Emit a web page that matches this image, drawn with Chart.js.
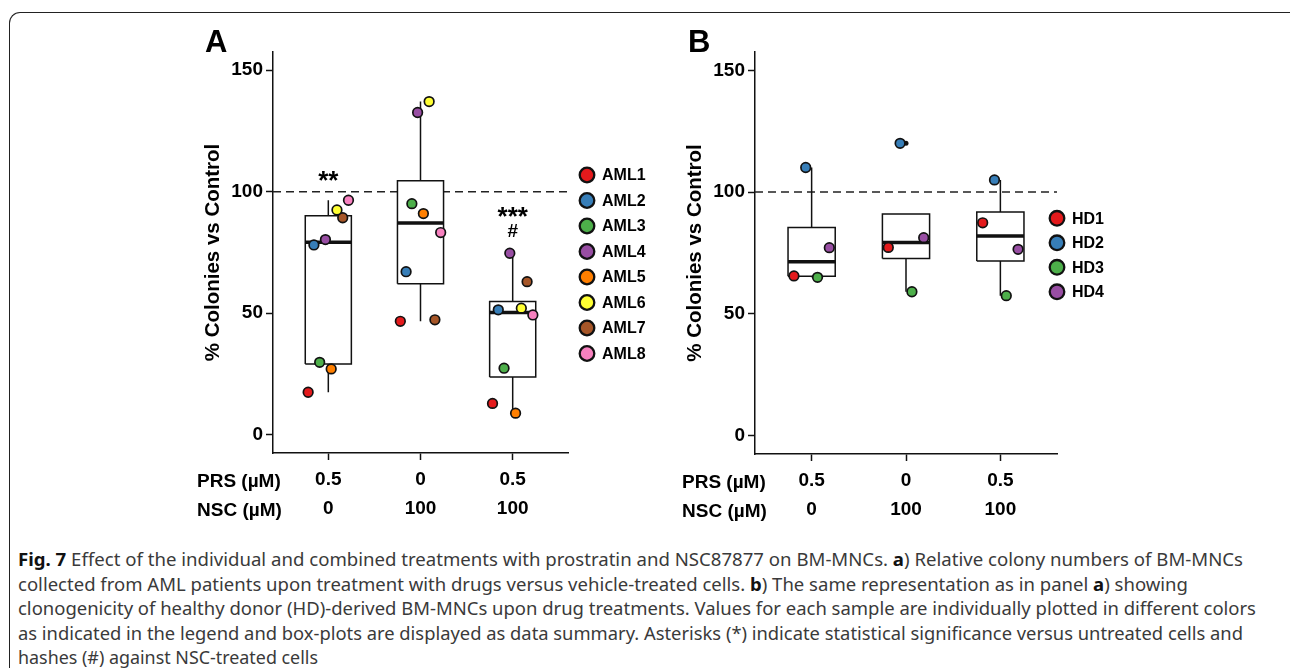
<!DOCTYPE html>
<html>
<head>
<meta charset="utf-8">
<script src="https://cdn.jsdelivr.net/npm/chart.js@4.4.0/dist/chart.umd.min.js"></script>
<style>
  html, body { margin: 0; padding: 0; background: #fff; }
  #page { position: relative; width: 1290px; height: 668px; overflow: hidden; background: #fff; }
  #frame { position: absolute; left: 9px; top: 12px; width: 1300px; height: 700px;
           border-top: 1.5px solid #222; border-left: 1.5px solid #222; border-top-left-radius: 11px; }
  #wrapA { position: absolute; left: 0; top: 0; width: 680px; height: 530px; }
  #wrapB { position: absolute; left: 680px; top: 0; width: 610px; height: 530px; }
  #caption { position: absolute; left: 18px; top: 547px; font-family: "Noto Sans", sans-serif;
             font-size: 18px; line-height: 24.5px; color: #3a3a3a; }
  .cl { white-space: nowrap; transform-origin: 0 0; display: inline-block; }
  .cl b { color: #111; }
</style>
</head>
<body>
<div id="page">
  <div id="frame"></div>
  <div id="wrapA"><canvas id="chartA"></canvas></div>
  <div id="wrapB"><canvas id="chartB"></canvas></div>
  <div id="caption">
    <div><span class="cl"><b>Fig. 7</b> Effect of the individual and combined treatments with prostratin and NSC87877 on BM-MNCs. <b>a</b>) Relative colony numbers of BM-MNCs</span></div>
    <div><span class="cl">collected from AML patients upon treatment with drugs versus vehicle-treated cells. <b>b</b>) The same representation as in panel <b>a</b>) showing</span></div>
    <div><span class="cl">clonogenicity of healthy donor (HD)-derived BM-MNCs upon drug treatments. Values for each sample are individually plotted in different colors</span></div>
    <div><span class="cl">as indicated in the legend and box-plots are displayed as data summary. Asterisks (*) indicate statistical significance versus untreated cells and</span></div>
    <div><span class="cl">hashes (#) against NSC-treated cells</span></div>
  </div>
</div>
<script>
// treatment groups (x positions 0,1,2) and their two-row tick labels
const groups = [0, 1, 2];
const prsLabels = ['0.5', '0', '0.5'];
const nscLabels = ['0', '100', '100'];
const rowLabels = ['PRS (µM)', 'NSC (µM)'];
const yTicks = [0, 50, 100, 150];
const controlLevel = 100;

// panel A: AML patients, % colonies vs control for each treatment
const amlNames = ['AML1', 'AML2', 'AML3', 'AML4', 'AML5', 'AML6', 'AML7', 'AML8'];
const amlColors = ['#e41a1c', '#377eb8', '#4daf4a', '#984ea3', '#ff7f00', '#ffff33', '#a65628', '#f781bf'];
const aml1 = [17.5, 46.7, 12.9];
const aml2 = [78.1, 67.1, 51.4];
const aml3 = [29.8, 95.1, 27.4];
const aml4 = [80.3, 132.6, 74.7];
const aml5 = [27.1, 91.0, 8.9];
const aml6 = [92.5, 137.1, 52.1];
const aml7 = [89.3, 47.3, 63.0];
const aml8 = [96.5, 83.2, 49.3];
const amlValues = [aml1, aml2, aml3, aml4, aml5, aml6, aml7, aml8];

// panel B: healthy donors
const hdNames = ['HD1', 'HD2', 'HD3', 'HD4'];
const hdColors = ['#e41a1c', '#377eb8', '#4daf4a', '#984ea3'];
const hd1 = [65.6, 77.3, 87.4];
const hd2 = [110.1, 120.0, 105.0];
const hd3 = [65.0, 59.1, 57.5];
const hd4 = [77.2, 81.3, 76.5];
const hdValues = [hd1, hd2, hd3, hd4];

// significance marks in panel A
const marksA = [
  { text: '**', x: 0, y: 101, size: 26 },
  { text: '***', x: 2, y: 86.5, size: 26 },
  { text: '#', x: 2, y: 81.2, size: 19 }
];

const FONT = '"Liberation Sans", Arial, sans-serif';
Chart.defaults.font.family = FONT;
Chart.defaults.color = '#000';

function quantile(s, p) {
  const pos = (s.length - 1) * p;
  const lo = Math.floor(pos), hi = Math.ceil(pos);
  return s[lo] + (s[hi] - s[lo]) * (pos - lo);
}

function boxStats(vals) {
  const s = vals.slice().sort((a, b) => a - b);
  const q1 = quantile(s, 0.25), med = quantile(s, 0.5), q3 = quantile(s, 0.75);
  const iqr = q3 - q1;
  const inside = s.filter(v => v >= q1 - 1.5 * iqr && v <= q3 + 1.5 * iqr);
  return { q1, med, q3, lo: inside[0], hi: inside[inside.length - 1], out: s.filter(v => inside.indexOf(v) < 0) };
}

function buildDatasets(names, colors, values) {
  const n = names.length, step = 0.5 / n, half = 0.25;
  const ds = [];
  names.forEach((name, i) => {
    ds.push({
      type: 'scatter', label: name, sample: true, order: 0,
      data: groups.map((g, j) => ({ x: g + (i - (n - 1) / 2) * step, y: values[i][j] })),
      backgroundColor: colors[i], borderColor: '#111', borderWidth: 1.7, pointRadius: 4.8
    });
  });
  const whisk = [], med = [], outl = [];
  groups.forEach((g, j) => {
    const st = boxStats(values.map(v => v[j]));
    ds.push({
      type: 'line', order: 3,
      data: [{ x: g - half, y: st.q1 }, { x: g + half, y: st.q1 }, { x: g + half, y: st.q3 },
             { x: g - half, y: st.q3 }, { x: g - half, y: st.q1 }],
      borderColor: '#111', borderWidth: 1.5, backgroundColor: '#fff', fill: 'shape',
      pointRadius: 0, borderJoinStyle: 'miter'
    });
    whisk.push({ x: g, y: st.q3 }, { x: g, y: st.hi }, { x: g, y: null },
               { x: g, y: st.lo }, { x: g, y: st.q1 }, { x: g, y: null });
    med.push({ x: g - half, y: st.med }, { x: g + half, y: st.med }, { x: g, y: null });
    st.out.forEach(v => outl.push({ x: g, y: v }));
  });
  ds.push({ type: 'line', order: 4, data: whisk, borderColor: '#111', borderWidth: 1.5, pointRadius: 0, fill: false });
  ds.push({ type: 'line', order: 2, data: med, borderColor: '#111', borderWidth: 3.5, pointRadius: 0, fill: false, borderCapStyle: 'butt' });
  ds.push({ type: 'scatter', order: 1, data: outl, backgroundColor: '#111', borderWidth: 0, pointRadius: 2.5 });
  ds.push({
    type: 'line', order: 6, data: [{ x: -0.6, y: controlLevel }, { x: 2.6, y: controlLevel }],
    borderColor: '#222', borderWidth: 1.5, borderDash: [8, 5], pointRadius: 0, fill: false
  });
  return ds;
}

const decorPlugin = {
  id: 'decor',
  afterDraw(chart, args, o) {
    const { ctx } = chart;
    const x = chart.scales.x, y = chart.scales.y;
    ctx.save();
    ctx.fillStyle = '#000';
    ctx.textAlign = 'left';
    ctx.textBaseline = 'alphabetic';
    ctx.font = 'bold 31px ' + FONT;
    ctx.fillText(o.letter, o.letterX, o.letterY);

    ctx.font = 'bold 19px ' + FONT;
    ctx.textBaseline = 'middle';
    rowLabels.forEach((t, i) => ctx.fillText(t, o.rowX, x.top + o.rowY0 + i * o.rowGap));

    ctx.textAlign = 'center';
    ctx.textBaseline = 'alphabetic';
    (o.marks || []).forEach(m => {
      ctx.font = 'bold ' + m.size + 'px ' + FONT;
      ctx.fillText(m.text, x.getPixelForValue(m.x), y.getPixelForValue(m.y));
    });

    // legend
    ctx.textAlign = 'left';
    ctx.textBaseline = 'middle';
    ctx.font = 'bold 16px ' + FONT;
    chart.data.datasets.filter(d => d.sample).forEach((d, i) => {
      const cy = o.legY + i * o.legGap;
      ctx.beginPath();
      ctx.arc(o.legX, cy, 7.3, 0, Math.PI * 2);
      ctx.fillStyle = d.backgroundColor;
      ctx.fill();
      ctx.lineWidth = 2.3;
      ctx.strokeStyle = '#111';
      ctx.stroke();
      ctx.fillStyle = '#000';
      ctx.fillText(d.label, o.legX + 15, cy + 1);
    });
    ctx.restore();
  }
};

function makeChart(id, names, colors, values, padding, decor) {
  const tickFont = { family: FONT, size: 19, weight: 'bold' };
  return new Chart(document.getElementById(id), {
    type: 'scatter',
    data: { datasets: buildDatasets(names, colors, values) },
    options: {
      responsive: true,
      maintainAspectRatio: false,
      animation: false,
      events: [],
      layout: { padding: padding },
      plugins: { legend: { display: false }, tooltip: { enabled: false }, decor: decor },
      scales: {
        x: {
          type: 'linear', min: -0.6, max: 2.6, offset: false,
          afterBuildTicks: s => { s.ticks = groups.map(v => ({ value: v })); },
          afterFit: s => { s.height = 70; },
          border: { display: true, color: '#111', width: 1.5 },
          grid: { display: true, drawOnChartArea: false, drawTicks: true, tickLength: 7, tickColor: '#111', tickWidth: 1.5, offset: false },
          ticks: {
            color: '#000', font: Object.assign({ lineHeight: 1.53 }, tickFont), padding: 5,
            maxRotation: 0, autoSkip: false,
            callback: (v, i) => [prsLabels[i], nscLabels[i]]
          }
        },
        y: {
          type: 'linear', min: -7.5, max: 157.5,
          afterBuildTicks: s => { s.ticks = yTicks.map(v => ({ value: v })); },
          afterFit: s => { s.width = 73; },
          border: { display: true, color: '#111', width: 1.5 },
          grid: { display: true, drawOnChartArea: false, drawTicks: true, tickLength: 7, tickColor: '#111', tickWidth: 1.5 },
          ticks: { color: '#000', font: tickFont, padding: 3 },
          title: { display: true, text: '% Colonies vs Control', color: '#000',
                   font: { family: FONT, size: 20.5, weight: 'bold' }, padding: { top: 1, bottom: 0 } }
        }
      }
    },
    plugins: [decorPlugin]
  });
}

makeChart('chartA', amlNames, amlColors, amlValues,
  { left: 200, top: 52, right: 112, bottom: 7 },
  { letter: 'A', letterX: 205, letterY: 52, rowX: 197, rowY0: 28.5, rowGap: 29,
    marks: marksA, legX: 587, legY: 175, legGap: 25.5 });

makeChart('chartB', hdNames, hdColors, hdValues,
  { left: 2, top: 52, right: 233, bottom: 6 },
  { letter: 'B', letterX: 8, letterY: 52, rowX: 2, rowY0: 28.5, rowGap: 29,
    marks: [], legX: 377, legY: 218.3, legGap: 24.5 });

// fit caption lines to the widths of the original
const lineEnds = [1243, 1188, 1256, 1243, 318];
document.querySelectorAll('#caption .cl').forEach((el, i) => {
  const w = el.getBoundingClientRect().width;
  el.style.transform = 'scaleX(' + ((lineEnds[i] - 18) / w).toFixed(4) + ')';
});
</script>
</body>
</html>
